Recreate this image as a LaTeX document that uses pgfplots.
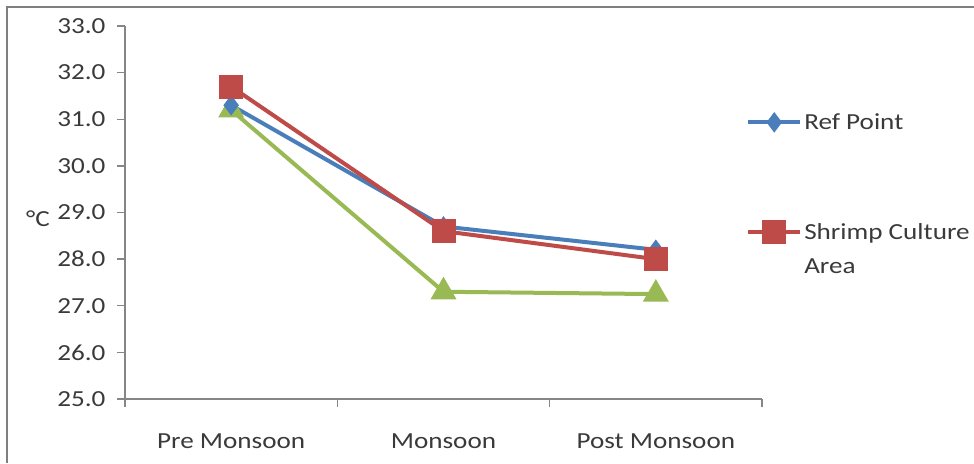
\documentclass[border=0pt]{standalone}
\usepackage{pgfplots}
\pgfplotsset{compat=1.18}
\usepackage{fontspec}
\setmainfont{Carlito}[FakeStretch=1.18]

\definecolor{refblue}{HTML}{4A7EBB}
\definecolor{shrimpred}{HTML}{BE4B48}
\definecolor{mixgreen}{HTML}{98B954}
\definecolor{axisgray}{HTML}{868686}
\definecolor{framegray}{HTML}{7F7F7F}
\definecolor{textgray}{HTML}{3A3A3A}

\begin{document}
\begin{tikzpicture}
\useasboundingbox (0pt,0pt) rectangle (974pt,463pt);
% outer frame (top and left edges)
\draw[framegray, line width=2.5pt] (7pt,0pt) -- (7pt,456pt) -- (974pt,456pt);

\begin{axis}[
  at={(125pt,64pt)}, anchor=south west,
  scale only axis,
  width=637pt, height=373pt,
  xmin=-0.5, xmax=2.5,
  ymin=25, ymax=33,
  axis x line*=bottom, axis y line*=left,
  axis line style={axisgray, line width=1.4pt},
  every axis plot/.append style={line width=4pt},
  xtick={0,1,2},
  xticklabels={Pre Monsoon, Monsoon, Post Monsoon},
  minor xtick={-0.5,0.5,1.5,2.5},
  major x tick style={draw=none},
  minor x tick style={axisgray, line width=1.4pt},
  minor tick length=8pt,
  ytick={25,26,...,33},
  y tick style={axisgray, line width=1.4pt},
  major tick length=8pt,
  tick align=outside,
  yticklabel={\pgfmathprintnumber[fixed, fixed zerofill, precision=1]{\tick}},
  /pgf/number format/assume math mode=true,
  tick label style={font=\fontsize{23}{27}\selectfont, text=textgray},
  xticklabel style={yshift=-23pt},
  yticklabel style={xshift=-8pt},
  ylabel={\textdegree C},
  ylabel style={rotate=-90, font=\fontsize{23}{27}\selectfont, text=textgray,
                at={(axis description cs:0,0.482)}, anchor=center, xshift=-87pt},
  legend style={draw=none, fill=none, at={(axis description cs:0.975,0.770)},
                anchor=north west, inner sep=0pt,
                font=\fontsize{23}{27}\selectfont, text=textgray,
                row sep=88pt,
                cells={anchor=base west},
                nodes={inner sep=2pt}},
  legend image code/.code={
    \draw[mark repeat=2, mark phase=2, #1] plot coordinates {(0pt,7.5pt) (26pt,7.5pt) (52pt,7.5pt)};
  },
]
\addplot[mixgreen, mark=triangle*, mark size=11pt, mark options={solid}, forget plot]
  coordinates {(0,31.2) (1,27.3) (2,27.25)};
\addplot[refblue, mark=diamond*, mark size=7pt, mark options={solid}]
  coordinates {(0,31.3) (1,28.7) (2,28.2)};
\addplot[shrimpred, mark=square*, mark size=10pt, mark options={solid}]
  coordinates {(0,31.7) (1,28.6) (2,28.0)};
\legend{Ref Point, {\vtop{\baselineskip=34pt\hbox{Shrimp Culture}\hbox{Area}}}}
\end{axis}
\end{tikzpicture}
\end{document}
